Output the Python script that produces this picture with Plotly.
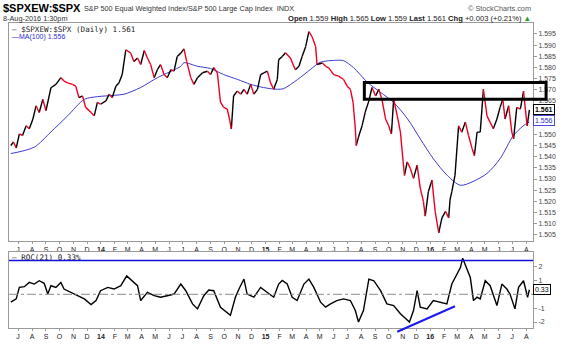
import plotly.graph_objects as go
import pandas as pd

# ---------------- data ----------------
price_dates = ['2013-06-15','2013-06-21','2013-06-27','2013-07-04','2013-07-11','2013-07-19','2013-07-26','2013-08-03','2013-08-10','2013-08-17',
 '2013-08-25','2013-09-01','2013-09-12','2013-09-23','2013-10-04','2013-10-11','2013-10-19','2013-10-30','2013-11-06','2013-11-13',
 '2013-11-21','2013-11-28','2013-12-10','2013-12-17','2013-12-24','2013-12-31','2014-01-12','2014-01-19','2014-01-26','2014-02-03',
 '2014-02-10','2014-02-17','2014-02-25','2014-03-08','2014-03-15','2014-03-23','2014-03-30','2014-04-07','2014-04-14','2014-04-21',
 '2014-04-29','2014-05-06','2014-05-13','2014-05-21','2014-05-28','2014-06-05','2014-06-12','2014-06-19','2014-06-27','2014-07-04',
 '2014-07-10','2014-07-19','2014-07-26','2014-08-03','2014-08-14','2014-08-25','2014-09-01','2014-09-08','2014-09-16','2014-09-23',
 '2014-09-30','2014-10-08','2014-10-13','2014-10-17','2014-10-22','2014-10-30','2014-11-07','2014-11-14','2014-11-21','2014-11-29',
 '2014-12-06','2014-12-14','2014-12-21','2014-12-28','2015-01-05','2015-01-12','2015-01-19','2015-01-27','2015-01-30','2015-02-07',
 '2015-02-14','2015-02-25','2015-03-08','2015-03-16','2015-03-23','2015-03-31','2015-04-07','2015-04-14','2015-04-22','2015-04-25',
 '2015-05-07','2015-05-14','2015-05-21','2015-06-01','2015-06-12','2015-06-23','2015-07-01','2015-07-08','2015-07-14','2015-07-19',
 '2015-07-21','2015-07-26','2015-08-03','2015-08-10','2015-08-18','2015-08-25','2015-09-02','2015-09-09','2015-09-16','2015-09-24',
 '2015-10-01','2015-10-07','2015-10-12','2015-10-20','2015-10-27','2015-11-02','2015-11-05','2015-11-11','2015-11-18','2015-11-25',
 '2015-12-03','2015-12-10','2015-12-17','2015-12-21','2015-12-28','2016-01-05','2016-01-12','2016-01-20','2016-01-27','2016-02-04',
 '2016-02-11','2016-02-14','2016-02-18','2016-02-25','2016-03-04','2016-03-11','2016-03-19','2016-03-26','2016-04-03','2016-04-08',
 '2016-04-14','2016-04-21','2016-04-28','2016-05-06','2016-05-13','2016-05-20','2016-05-28','2016-06-04','2016-06-10','2016-06-15',
 '2016-06-23','2016-06-30','2016-07-04','2016-07-11','2016-07-19','2016-07-26','2016-07-30','2016-08-03','2016-08-08']
price_vals = [1.5450,1.5466,1.5439,1.5502,1.5495,1.5539,1.5525,1.5569,1.5628,1.5598,
 1.5657,1.5606,1.5709,1.5724,1.5754,1.5739,1.5731,1.5724,1.5716,1.5665,
 1.5672,1.5621,1.5598,1.5583,1.5643,1.5635,1.5650,1.5680,1.5665,1.5716,
 1.5731,1.5768,1.5879,1.5864,1.5827,1.5842,1.5813,1.5876,1.5842,1.5813,
 1.5754,1.5790,1.5813,1.5768,1.5754,1.5790,1.5783,1.5849,1.5864,1.5883,
 1.5827,1.5755,1.5724,1.5754,1.5776,1.5783,1.5768,1.5799,1.5776,1.5644,
 1.5621,1.5613,1.5569,1.5524,1.5672,1.5694,1.5680,1.5702,1.5680,1.5724,
 1.5680,1.5702,1.5768,1.5776,1.5783,1.5731,1.5702,1.5746,1.5835,1.5849,
 1.5866,1.5842,1.5790,1.5805,1.5849,1.5894,1.5960,1.5938,1.5894,1.5813,
 1.5820,1.5805,1.5798,1.5768,1.5761,1.5746,1.5716,1.5702,1.5644,1.5524,
 1.5450,1.5488,1.5539,1.5600,1.5650,1.5710,1.5672,1.5702,1.5657,1.5569,
 1.5539,1.5502,1.5657,1.5583,1.5510,1.5378,1.5316,1.5377,1.5347,1.5303,
 1.5362,1.5259,1.5200,1.5134,1.5244,1.5295,1.5155,1.5059,1.5126,1.5155,
 1.5126,1.5207,1.5244,1.5316,1.5538,1.5510,1.5555,1.5495,1.5436,1.5405,
 1.5510,1.5510,1.5702,1.5583,1.5554,1.5525,1.5569,1.5621,1.5657,1.5569,
 1.5628,1.5510,1.5480,1.5621,1.5613,1.5694,1.5613,1.5538,1.5610]

ma_dates = ['2013-06-15','2013-08-06','2013-09-12','2013-10-19','2013-11-25','2013-12-24','2014-01-30','2014-02-21','2014-03-30','2014-05-06',
 '2014-06-27','2014-07-04','2014-08-03','2014-09-01','2014-09-30','2014-10-31','2014-11-29','2014-12-27','2015-01-27','2015-02-10',
 '2015-03-13','2015-04-10','2015-05-02','2015-06-08','2015-06-23','2015-07-15','2015-08-15','2015-09-13','2015-10-12','2015-11-12',
 '2015-12-10','2016-01-08','2016-02-08','2016-03-08','2016-04-05','2016-05-06','2016-06-04','2016-07-03','2016-07-25','2016-08-08']
ma_vals = [1.5414,1.5443,1.5511,1.5583,1.5657,1.5669,1.5675,1.5680,1.5710,1.5754,
 1.5805,1.5821,1.5805,1.5795,1.5768,1.5746,1.5724,1.5710,1.5702,1.5705,
 1.5746,1.5790,1.5823,1.5832,1.5830,1.5799,1.5733,1.5688,1.5643,1.5569,
 1.5480,1.5391,1.5316,1.5272,1.5289,1.5325,1.5391,1.5493,1.5538,1.5556]

roc_dates = ['2013-06-15','2013-06-27','2013-07-04','2013-07-15','2013-07-26','2013-08-06','2013-08-17','2013-08-28','2013-09-05','2013-09-12',
 '2013-09-23','2013-10-04','2013-10-11','2013-10-26','2013-11-10','2013-11-25','2013-12-10','2013-12-21','2013-12-31','2014-01-16',
 '2014-01-30','2014-02-14','2014-02-27','2014-03-12','2014-03-23','2014-03-30','2014-04-14','2014-04-29','2014-05-13','2014-05-28',
 '2014-06-12','2014-06-27','2014-07-08','2014-07-23','2014-08-03','2014-08-17','2014-08-28','2014-09-08','2014-09-23','2014-10-15',
 '2014-10-26','2014-11-03','2014-11-14','2014-11-21','2014-12-06','2014-12-21','2015-01-04','2015-01-19','2015-01-30','2015-02-07',
 '2015-02-18','2015-03-01','2015-03-12','2015-03-27','2015-04-07','2015-04-18','2015-05-03','2015-05-14','2015-05-25','2015-06-08',
 '2015-06-23','2015-07-08','2015-07-19','2015-07-26','2015-08-06','2015-08-18','2015-08-29','2015-09-13','2015-09-27','2015-10-12',
 '2015-10-27','2015-11-16','2015-11-25','2015-12-03','2015-12-10','2015-12-25','2016-01-08','2016-01-23','2016-02-07','2016-02-18',
 '2016-02-29','2016-03-08','2016-03-13','2016-03-22','2016-03-30','2016-04-06','2016-04-14','2016-04-21','2016-05-02','2016-05-13',
 '2016-05-28','2016-06-08','2016-06-19','2016-06-26','2016-07-07','2016-07-15','2016-07-26','2016-08-04','2016-08-08']
roc_vals = [-0.57,-0.33,0.50,0.55,0.86,0.74,0.98,0.79,0.02,0.62,
 0.50,0.86,0.38,0.14,-0.10,-0.33,-0.74,-0.45,0.26,0.50,
 0.38,0.62,1.33,0.98,0.62,-0.45,0.14,-0.10,-0.21,-0.10,
 0.02,0.74,0.26,-0.69,-1.05,-0.10,0.31,0.26,-0.93,-1.52,
 -0.21,0.38,1.10,0.02,-0.21,0.50,0.14,-0.21,0.74,1.00,
 0.74,-0.21,-0.45,0.74,1.10,0.50,-0.57,-0.93,-0.69,-0.45,
 -0.33,-0.45,-1.17,-2.00,-1.17,1.10,0.98,0.26,-0.69,-0.81,
 -1.40,-2.00,-1.17,0.26,-0.93,-1.05,-0.45,-0.57,-0.69,0.74,
 1.45,1.93,2.60,1.93,1.21,-0.45,-0.21,-0.33,0.98,0.62,
 -0.81,0.74,0.38,0.02,-1.05,0.50,0.98,-0.21,0.33]

month_ticks = ['2013-07-01','2013-08-01','2013-09-01','2013-10-01','2013-11-01','2013-12-01',
 '2014-01-01','2014-02-01','2014-03-01','2014-04-01','2014-05-01','2014-06-01','2014-07-01','2014-08-01','2014-09-01','2014-10-01','2014-11-01','2014-12-01',
 '2015-01-01','2015-02-01','2015-03-01','2015-04-01','2015-05-01','2015-06-01','2015-07-01','2015-08-01','2015-09-01','2015-10-01','2015-11-01','2015-12-01',
 '2016-01-01','2016-02-01','2016-03-01','2016-04-01','2016-05-01','2016-06-01','2016-07-01','2016-08-01']
month_labels = ['J','A','S','O','N','D',
 '<b>14</b>','F','M','A','M','J','J','A','S','O','N','D',
 '<b>15</b>','F','M','A','M','J','J','A','S','O','N','D',
 '<b>16</b>','F','M','A','M','J','J','A']

price_ticks = [1.505,1.510,1.515,1.520,1.525,1.530,1.535,1.540,1.545,1.550,1.565,1.570,1.575,1.580,1.585,1.590,1.595]
roc_ticks = [-2, -1, 1, 2]

x_range = ['2013-06-11', '2016-08-16']
price_range = [1.5023, 1.5999]
roc_range = [-2.43, 3.07]

box_dates = ['2015-08-08', '2016-09-14']   # resistance box drawn on chart
box_vals = [1.5657, 1.5733]
trend_dates = ['2015-10-20', '2016-02-25']  # ROC trendline
trend_vals = [-2.7, -0.86]
roc_upper = 2.43

last_price = 1.561
last_ma = 1.556
last_roc = 0.33

# ---------------- geometry helpers ----------------
W, H = 565, 348
L, R, T, B = 8, 32, 23, 17
PW, PH = W - L - R, H - T - B

def px_x(px):
    return (px - L) / PW

def px_y(py):
    return (H - B - py) / PH

main_dom = [px_y(243), 1.0]
roc_dom = [0.0, px_y(254)]

t0, t1 = pd.Timestamp(x_range[0]), pd.Timestamp(x_range[1])

def dfrac(d):
    return (pd.Timestamp(d) - t0) / (t1 - t0)

def vfrac(v, rng):
    return (v - rng[0]) / (rng[1] - rng[0])

# ---------------- traces ----------------
up_x, up_y, dn_x, dn_y = [], [], [], []
for i in range(len(price_vals) - 1):
    seg_x = [price_dates[i], price_dates[i + 1], None]
    seg_y = [price_vals[i], price_vals[i + 1], None]
    if price_vals[i + 1] >= price_vals[i]:
        up_x += seg_x; up_y += seg_y
    else:
        dn_x += seg_x; dn_y += seg_y

fig = go.Figure()
fig.add_trace(go.Scatter(x=ma_dates, y=ma_vals, mode='lines', line=dict(color='#3b3bd0', width=1, shape='spline', smoothing=0.8),
                         xaxis='x', yaxis='y', hoverinfo='skip'))
fig.add_trace(go.Scatter(x=up_x, y=up_y, mode='lines', line=dict(color='black', width=1.4), xaxis='x', yaxis='y'))
fig.add_trace(go.Scatter(x=dn_x, y=dn_y, mode='lines', line=dict(color='#ee0022', width=1.4), xaxis='x', yaxis='y'))
fig.add_trace(go.Scatter(x=roc_dates, y=roc_vals, mode='lines', line=dict(color='black', width=1.4), xaxis='x2', yaxis='y2'))

axis_common = dict(showgrid=False, zeroline=False, showline=True, linecolor='#9a9a9a', linewidth=1, mirror=True)
fig.update_layout(
    width=W, height=H, margin=dict(l=L, r=R, t=T, b=B),
    paper_bgcolor='white', plot_bgcolor='white', showlegend=False,
    font=dict(family='Liberation Sans, Arial, sans-serif', color='#333'),
    xaxis=dict(domain=[0, 1], anchor='y', range=x_range, type='date', tickvals=month_ticks, ticktext=month_labels,
               tickfont=dict(size=7, color='#222'), ticks='outside', ticklen=2, tickcolor='#999', **axis_common),
    yaxis=dict(domain=main_dom, anchor='x', side='right', range=price_range, tickvals=price_ticks,
               ticktext=['%.3f' % v for v in price_ticks], tickfont=dict(size=7, color='#444'),
               ticks='outside', ticklen=3, tickcolor='#999', **axis_common),
    xaxis2=dict(domain=[0, 1], anchor='y2', range=x_range, type='date', tickvals=month_ticks, ticktext=month_labels,
                tickfont=dict(size=7, color='#222'), ticks='outside', ticklen=2, tickcolor='#999', **axis_common),
    yaxis2=dict(domain=roc_dom, anchor='x2', side='right', range=roc_range, tickvals=roc_ticks,
                ticktext=[str(v) for v in roc_ticks], tickfont=dict(size=7, color='#444'),
                ticks='outside', ticklen=3, tickcolor='#999', **axis_common),
)

shapes = [
    # zero line in ROC
    dict(type='line', xref='x2 domain', yref='y2', x0=0, x1=1, y0=0, y1=0, line=dict(color='#8a8a8a', width=1, dash='dashdot')),
    # upper ROC level line
    dict(type='line', xref='x2 domain', yref='y2', x0=0, x1=1, y0=roc_upper, y1=roc_upper, line=dict(color='#1010dd', width=1.5)),
    # ROC trendline
    dict(type='line', xref='x2 domain', yref='y2 domain', x0=dfrac(trend_dates[0]), x1=dfrac(trend_dates[1]),
         y0=vfrac(trend_vals[0], roc_range), y1=vfrac(trend_vals[1], roc_range), line=dict(color='#1a1aee', width=2)),
    # resistance box
    dict(type='rect', xref='x domain', yref='y domain', x0=dfrac(box_dates[0]), x1=dfrac(box_dates[1]),
         y0=vfrac(box_vals[0], price_range), y1=vfrac(box_vals[1], price_range), line=dict(color='black', width=3)),
]
fig.update_layout(shapes=shapes)

ann = []
def A(px, py, text, size=7.5, color='#333', anchor='left', family=None, **kw):
    f = dict(size=size, color=color)
    if family:
        f['family'] = family
    ann.append(dict(x=px_x(px), y=px_y(py), xref='paper', yref='paper', xanchor=anchor, yanchor='middle',
                    text=text, showarrow=False, font=f, **kw))

A(0, 8, '<b>$SPXEW:$SPX</b>', size=11, color='black')
A(81, 8.5, 'S&amp;P 500 Equal Weighted Index/S&amp;P 500 Large Cap Index&nbsp;&nbsp;INDX', size=7.3)
A(533, 8.5, '© StockCharts.com', size=7.3, color='#555', anchor='right')
A(0, 18, '8-Aug-2016 1:30pm', size=7.3)
A(533, 18, '<b>Open</b> 1.559 <b>High</b> 1.565 <b>Low</b> 1.559 <b>Last</b> 1.561 <b>Chg</b> +0.003 (+0.21%) '
          '<span style="color:#22a022">▲</span>', size=7.6, color='#222', anchor='right')
A(9, 30, '— $SPXEW:$SPX (Daily) 1.561', size=7.6, color='#222', family='DejaVu Sans Mono, monospace')
A(9, 37.5, '—MA(100) 1.556', size=7, color='#2a2ad0')
A(9, 260, '— ROC(21) 0.33%', size=7.6, color='#222', family='DejaVu Sans Mono, monospace')

# last value tags
ann.append(dict(x=1, xref='paper', y=last_price, yref='y', xanchor='left', yanchor='middle', text='<b>%.3f</b>' % last_price,
                showarrow=False, font=dict(size=7, color='black'), bgcolor='white', bordercolor='black', borderwidth=1, borderpad=1))
ann.append(dict(x=1, xref='paper', y=last_ma, yref='y', xanchor='left', yanchor='middle', text='%.3f' % last_ma,
                showarrow=False, font=dict(size=7, color='#2a2ad0'), bgcolor='white', bordercolor='#4a4ad8', borderwidth=1, borderpad=1))
ann.append(dict(x=1, xref='paper', y=last_roc, yref='y2', xanchor='left', yanchor='middle', text='%.2f' % last_roc,
                showarrow=False, font=dict(size=7, color='black'), bgcolor='white', bordercolor='black', borderwidth=1, borderpad=1))
fig.update_layout(annotations=ann)

fig.write_html('out.html')
